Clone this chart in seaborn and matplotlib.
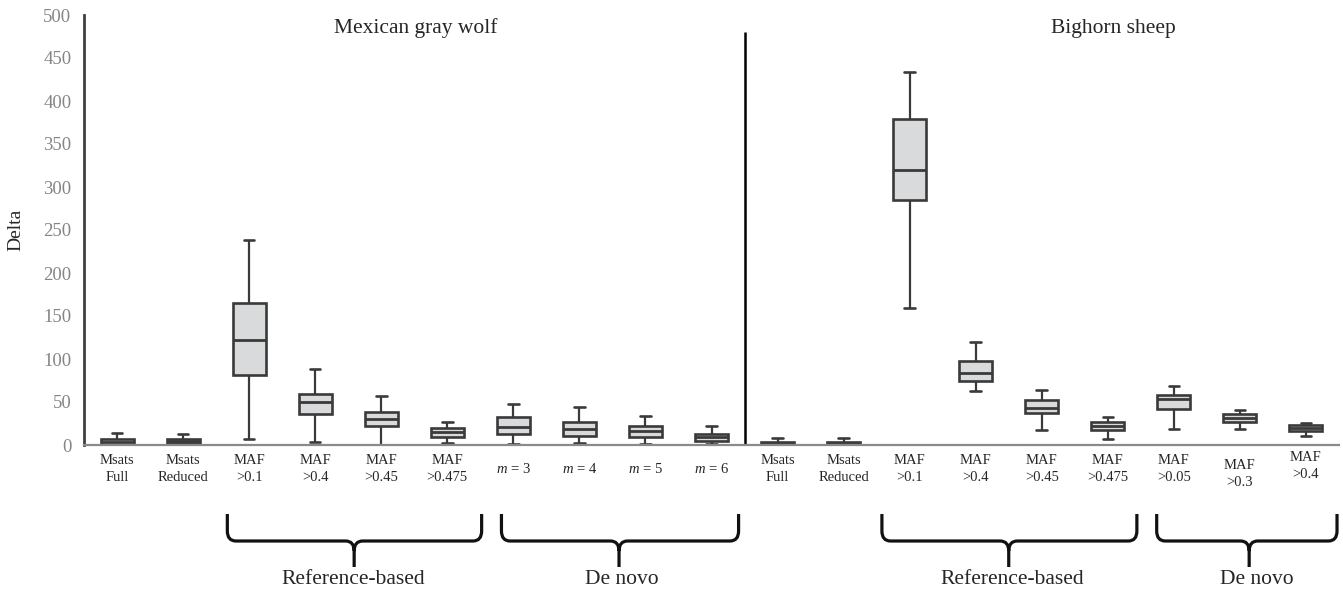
import numpy as np
import pandas as pd
import matplotlib
matplotlib.use("Agg")
import matplotlib.pyplot as plt
from matplotlib.path import Path
from matplotlib.patches import PathPatch
import matplotlib.transforms as mtransforms
import seaborn as sns

# ---------------- data (five-number summaries) -------------
wolf_keys = ["w_msats_full", "w_msats_red", "w_maf01", "w_maf04", "w_maf045",
             "w_maf0475", "w_m3", "w_m4", "w_m5", "w_m6"]
wolf_labels = ["Msats\nFull", "Msats\nReduced", "MAF\n>0.1", "MAF\n>0.4", "MAF\n>0.45",
               "MAF\n>0.475", "$m$ = 3", "$m$ = 4", "$m$ = 5", "$m$ = 6"]
wolf_lo  = [0.0, 0.0, 6.5, 3.5, 0.5, 2.7, 0.8, 2.7, 0.8, 0.8]
wolf_q1  = [0.5, 2.7, 81.5, 36.0, 22.5, 9.7, 12.4, 10.5, 9.7, 4.7]
wolf_med = [3.0, 5.0, 122.5, 50.0, 30.0, 15.0, 21.3, 18.6, 16.3, 9.3]
wolf_q3  = [7.0, 7.5, 165.0, 59.0, 38.5, 19.8, 33.0, 26.7, 22.0, 12.8]
wolf_hi  = [14.0, 12.5, 238.0, 88.5, 56.5, 26.5, 47.7, 44.6, 33.3, 21.7]

sheep_keys = ["s_msats_full", "s_msats_red", "s_maf01", "s_maf04", "s_maf045",
              "s_maf0475", "s_maf005", "s_maf03", "s_maf04b"]
sheep_labels = ["Msats\nFull", "Msats\nReduced", "MAF\n>0.1", "MAF\n>0.4", "MAF\n>0.45",
                "MAF\n>0.475", "MAF\n>0.05", "MAF\n>0.3", "MAF\n>0.4"]
sheep_lo  = [0.0, 0.0, 159.0, 63.0, 17.5, 7.0, 18.5, 18.5, 11.0]
sheep_q1  = [0.5, 0.5, 285.0, 75.0, 37.5, 17.0, 42.0, 26.5, 16.0]
sheep_med = [2.0, 2.0, 320.0, 83.5, 42.5, 22.0, 53.0, 31.5, 19.5]
sheep_q3  = [4.0, 4.0, 379.0, 98.0, 52.5, 26.7, 58.0, 35.5, 23.0]
sheep_hi  = [8.0, 8.0, 434.0, 120.0, 64.5, 32.5, 68.5, 40.5, 25.5]

panel_titles = ["Mexican gray wolf", "Bighorn sheep"]
group_labels = ["Reference-based", "De novo", "Reference-based", "De novo"]

# ---------------- build long-form table --------------------------------------
rows = []
for keys, lo, q1, md, q3, hi in [(wolf_keys, wolf_lo, wolf_q1, wolf_med, wolf_q3, wolf_hi),
                                 (sheep_keys, sheep_lo, sheep_q1, sheep_med, sheep_q3, sheep_hi)]:
    for i, k in enumerate(keys):
        for v in (lo[i], q1[i], md[i], q3[i], hi[i]):
            rows.append({"cond": k, "delta": v})
df = pd.DataFrame(rows)
order = wolf_keys + sheep_keys
tick_labels = wolf_labels + sheep_labels

# ---------------- style -------------------------------------------------------
sns.set_style("white")
plt.rcParams["font.family"] = ["Liberation Serif", "DejaVu Serif"]
plt.rcParams["mathtext.fontset"] = "custom"
plt.rcParams["mathtext.rm"] = "Liberation Serif"
plt.rcParams["mathtext.it"] = "Liberation Serif:italic"

W, H = 1343, 595
fig = plt.figure(figsize=(W / 100, H / 100), dpi=100)
ax = fig.add_axes([84 / W, 150 / H, (1339 - 84) / W, (445 - 15) / H])

edge = "#3a3a3a"
sns.boxplot(data=df, x="cond", y="delta", order=order, whis=(0, 100), width=0.5,
            color="#d9dadc", saturation=1, linecolor=edge, linewidth=1.9,
            capwidths=0.16, showfliers=False, ax=ax,
            medianprops={"color": edge, "linewidth": 2.0},
            whiskerprops={"color": edge, "linewidth": 1.6},
            capprops={"color": edge, "linewidth": 1.9})

ax.set_xlim(-0.5, len(order) - 0.5)
ax.set_ylim(0, 500)
ax.set_yticks(np.arange(0, 501, 50))
ax.tick_params(axis="y", length=0, pad=9, labelsize=13.5, labelcolor="#858585")
ax.set_xticks(range(len(order)))
ax.set_xticklabels(tick_labels, fontsize=10.5, va="center", linespacing=1.4)
ax.tick_params(axis="x", length=0, pad=17)
labs = ax.get_xticklabels()
labs[17].set_y(-0.012)
labs[18].set_y(0.006)
ax.set_xlabel("")
ax.set_ylabel("Delta", fontsize=14, labelpad=14)

for s in ["top", "right"]:
    ax.spines[s].set_visible(False)
ax.spines["left"].set_color("#404040")
ax.spines["left"].set_linewidth(2.0)
ax.spines["bottom"].set_color("#8a8a8a")
ax.spines["bottom"].set_linewidth(1.6)

# separator between panels
ax.vlines(9.5, 0, 480, color="black", linewidth=1.8)

# panel titles
ax.text(4.53, 1 - (28 - 15) / 430, panel_titles[0], transform=ax.get_xaxis_transform(),
        ha="center", va="center", fontsize=15.5)
ax.text(15.08, 1 - (28 - 15) / 430, panel_titles[1], transform=ax.get_xaxis_transform(),
        ha="center", va="center", fontsize=15.5)

# braces below axis
btrans = mtransforms.blended_transform_factory(ax.transData, fig.transFigure)

def brace(x0, x1, xc):
    ytop = 1 - 514 / H
    ybar = 1 - 541 / H
    ybot = 1 - 567 / H
    rx = 0.13
    ry = 10 / H
    verts = [(x0, ytop), (x0, ybar + ry), (x0, ybar), (x0 + rx, ybar),
             (xc - rx, ybar), (xc, ybar), (xc, ybar - ry), (xc, ybot),
             (xc, ybar - ry), (xc, ybar), (xc + rx, ybar),
             (x1 - rx, ybar), (x1, ybar), (x1, ybar + ry), (x1, ytop)]
    codes = [Path.MOVETO, Path.LINETO, Path.CURVE3, Path.CURVE3,
             Path.LINETO, Path.CURVE3, Path.CURVE3, Path.LINETO,
             Path.MOVETO, Path.CURVE3, Path.CURVE3,
             Path.LINETO, Path.CURVE3, Path.CURVE3, Path.LINETO]
    p = PathPatch(Path(verts, codes), transform=btrans, fill=False,
                  edgecolor="#111111", linewidth=2.3, clip_on=False,
                  capstyle="butt", joinstyle="round")
    fig.add_artist(p)

brace_x = [(1.67, 5.52, 3.59), (5.82, 9.41, 7.60), (11.58, 15.44, 13.50), (15.74, 18.47, 17.14)]
label_x = [3.57, 7.64, 13.56, 17.26]
for (x0, x1, xc), lx, lab in zip(brace_x, label_x, group_labels):
    brace(x0, x1, xc)
    fig.text(lx, 1 - 579 / H, lab, transform=btrans, ha="center", va="center", fontsize=15.5)

fig.savefig("out.png", dpi=100)
